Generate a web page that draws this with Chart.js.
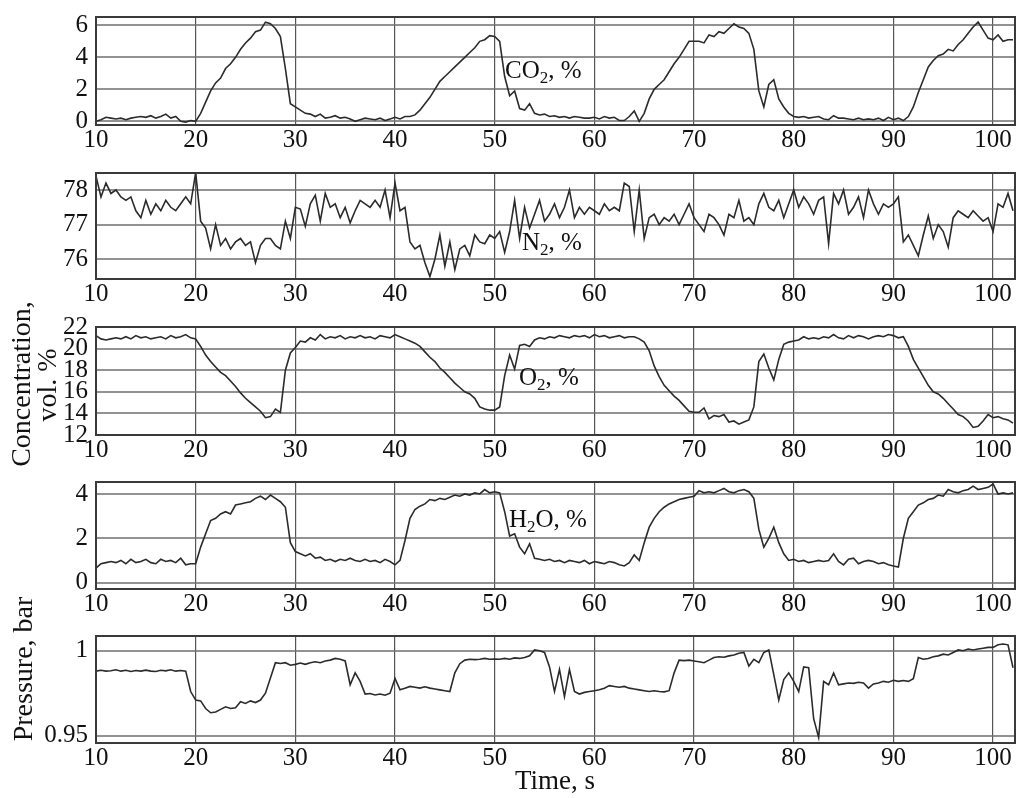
<!DOCTYPE html>
<html><head><meta charset="utf-8">
<script src="https://cdn.jsdelivr.net/npm/chart.js@4.4.1/dist/chart.umd.min.js"></script>
<style>
html,body{margin:0;padding:0;background:#fff;overflow:hidden;}
#wrap{position:relative;width:1017px;height:798px;font-family:"Liberation Serif","Times New Roman",serif;color:#111;}
canvas{position:absolute;left:0;}
.lbl{position:absolute;font-size:25px;line-height:25px;white-space:nowrap;}
.rot{position:absolute;width:220px;font-size:28px;line-height:28px;white-space:nowrap;text-align:center;transform:rotate(-90deg);}
sub{font-size:17px;vertical-align:-5px;line-height:0;}
</style></head>
<body>
<div id="wrap">
  <canvas id="c1"></canvas><canvas id="c2"></canvas><canvas id="c3"></canvas><canvas id="c4"></canvas><canvas id="c5"></canvas>
  <div class="lbl" style="left:505px;top:57px;">CO<sub>2</sub>, %</div>
  <div class="lbl" style="left:522px;top:229px;">N<sub>2</sub>, %</div>
  <div class="lbl" style="left:519px;top:364px;">O<sub>2</sub>, %</div>
  <div class="lbl" style="left:509px;top:506px;">H<sub>2</sub>O, %</div>
  <div class="rot" style="left:-89px;top:370px;">Concentration,</div>
  <div class="rot" style="left:-63px;top:371px;">vol. %</div>
  <div class="rot" style="left:-87px;top:655px;">Pressure, bar</div>
  <div class="lbl" style="left:455px;width:200px;text-align:center;font-size:27px;line-height:27px;top:767px;">Time, s</div>
</div>
<script>
// ---- data ----
const time = [
10,10.5,11,11.5,12,12.5,13,13.5,14,14.5,
15,15.5,16,16.5,17,17.5,18,18.5,19,19.5,
20,20.5,21,21.5,22,22.5,23,23.5,24,24.5,
25,25.5,26,26.5,27,27.5,28,28.5,29,29.5,
30,30.5,31,31.5,32,32.5,33,33.5,34,34.5,
35,35.5,36,36.5,37,37.5,38,38.5,39,39.5,
40,40.5,41,41.5,42,42.5,43,43.5,44,44.5,
45,45.5,46,46.5,47,47.5,48,48.5,49,49.5,
50,50.5,51,51.5,52,52.5,53,53.5,54,54.5,
55,55.5,56,56.5,57,57.5,58,58.5,59,59.5,
60,60.5,61,61.5,62,62.5,63,63.5,64,64.5,
65,65.5,66,66.5,67,67.5,68,68.5,69,69.5,
70,70.5,71,71.5,72,72.5,73,73.5,74,74.5,
75,75.5,76,76.5,77,77.5,78,78.5,79,79.5,
80,80.5,81,81.5,82,82.5,83,83.5,84,84.5,
85,85.5,86,86.5,87,87.5,88,88.5,89,89.5,
90,90.5,91,91.5,92,92.5,93,93.5,94,94.5,
95,95.5,96,96.5,97,97.5,98,98.5,99,99.5,
100,100.5,101,101.5,102];

const co2 = [
0.0,0.1,0.25,0.2,0.15,0.2,0.1,0.2,0.25,0.3,
0.25,0.35,0.2,0.3,0.45,0.2,0.3,0.0,-0.05,0.05,
0.0,0.5,1.2,1.9,2.4,2.7,3.3,3.6,4.0,4.5,
4.9,5.2,5.6,5.7,6.2,6.1,5.8,5.3,3.3,1.1,
0.9,0.7,0.5,0.45,0.3,0.45,0.2,0.25,0.35,0.2,
0.25,0.15,0.0,0.1,0.2,0.15,0.1,0.2,0.05,0.15,
0.25,0.15,0.3,0.3,0.4,0.7,1.1,1.5,2.0,2.5,
2.8,3.1,3.4,3.7,4.0,4.3,4.6,5.0,5.1,5.35,
5.3,5.0,2.8,1.6,1.9,0.8,0.7,1.1,0.5,0.4,
0.45,0.3,0.35,0.25,0.3,0.2,0.3,0.25,0.2,0.2,
0.25,0.15,0.3,0.2,0.25,0.05,0.05,0.3,0.65,0.0,
0.5,1.4,2.0,2.3,2.6,3.1,3.6,4.0,4.5,5.0,
5.0,5.0,4.9,5.4,5.3,5.6,5.5,5.8,6.1,5.9,
5.8,5.5,4.5,1.9,0.9,2.3,2.6,1.4,0.9,0.5,
0.3,0.25,0.3,0.2,0.25,0.3,0.15,0.1,0.35,0.2,
0.2,0.15,0.1,0.2,0.1,0.15,0.1,0.2,0.05,0.25,
0.1,0.2,0.05,0.3,0.9,1.8,2.6,3.4,3.8,4.1,
4.2,4.5,4.4,4.8,5.1,5.5,5.9,6.2,5.7,5.2,
5.1,5.4,5.0,5.1,5.1];

const n2 = [
78.4,77.8,78.2,77.9,78.0,77.8,77.7,77.8,77.4,77.2,
77.7,77.3,77.6,77.4,77.7,77.5,77.4,77.6,77.8,77.6,
78.5,77.1,76.9,76.3,77.0,76.4,76.6,76.3,76.5,76.6,
76.4,76.5,75.9,76.4,76.6,76.6,76.4,76.3,77.1,76.6,
77.5,77.45,76.95,77.6,77.85,77.1,77.9,77.5,77.6,77.2,
77.5,77.05,77.4,77.7,77.6,77.5,77.7,77.5,78.0,77.2,
78.2,77.4,77.5,76.5,76.3,76.4,75.9,75.5,76.0,76.7,
75.8,76.5,75.7,76.3,76.4,76.1,76.7,76.5,76.45,76.7,
76.6,76.8,76.2,76.8,77.7,76.6,77.5,76.9,77.3,77.7,
77.1,77.3,77.6,77.2,77.5,78.0,77.2,77.5,77.3,77.5,
77.4,77.3,77.6,77.4,77.5,77.4,78.2,78.1,76.8,78.0,
76.6,77.2,77.3,77.0,77.2,77.1,77.3,77.0,77.3,77.6,
77.2,77.0,76.8,77.3,77.2,77.0,76.7,77.3,77.2,77.7,
77.1,77.2,77.0,77.6,77.9,77.5,77.4,77.7,77.2,77.6,
78.0,77.5,77.8,77.6,77.3,77.7,77.8,76.45,77.9,77.6,
78.0,77.3,77.5,77.8,77.2,78.0,77.6,77.3,77.6,77.5,
77.6,77.8,76.5,76.7,76.4,76.1,76.7,77.25,76.6,77.0,
76.8,76.35,77.2,77.4,77.3,77.2,77.4,77.25,77.1,77.2,
76.8,77.6,77.5,77.9,77.4];

const o2 = [
21.2,20.9,20.8,20.9,21.0,20.9,21.1,20.9,21.2,21.0,
21.1,20.9,21.0,21.1,20.9,21.2,21.0,21.1,21.3,21.0,
20.9,20.2,19.4,18.8,18.3,17.8,17.5,17.0,16.5,15.9,
15.4,15.0,14.6,14.2,13.6,13.7,14.4,14.1,18.0,19.6,
20.1,20.7,20.6,21.0,20.8,21.3,20.9,21.1,21.0,21.2,
20.9,21.1,21.0,21.2,21.0,21.1,20.9,21.2,21.1,21.0,
21.3,21.1,20.9,20.7,20.5,20.2,19.7,19.2,18.8,18.2,
17.8,17.3,16.8,16.4,16.0,15.8,15.4,14.6,14.4,14.3,
14.3,14.6,17.5,19.4,18.1,20.3,20.4,20.2,20.8,21.0,
20.9,21.1,21.0,21.2,21.1,21.0,21.2,21.1,21.2,21.0,
21.3,21.1,21.2,21.0,21.1,21.2,21.0,21.1,21.1,20.9,
20.6,19.8,18.4,17.4,16.6,16.1,15.6,15.2,14.7,14.2,
14.1,14.1,14.5,13.5,13.8,13.7,13.9,13.2,13.3,13.0,
13.2,13.4,14.6,18.8,19.5,18.2,17.1,19.0,20.4,20.6,
20.7,20.8,21.1,20.9,21.0,20.9,21.1,21.0,21.3,21.0,
20.9,21.2,21.0,21.2,21.1,20.9,21.1,21.2,21.1,21.3,
21.2,21.0,21.1,20.2,19.0,18.2,17.4,16.6,16.0,15.8,
15.4,14.9,14.4,13.9,13.7,13.3,12.7,12.8,13.3,13.9,
13.6,13.7,13.5,13.4,13.1];

const h2o = [
0.65,0.85,0.9,0.95,0.9,1.0,0.85,1.05,0.9,0.95,
1.05,0.9,0.85,1.05,0.95,1.0,0.9,1.1,0.8,0.85,
0.85,1.6,2.2,2.8,2.9,3.1,3.2,3.1,3.5,3.55,
3.6,3.65,3.8,3.9,3.75,3.95,3.8,3.65,3.4,1.8,
1.4,1.3,1.2,1.3,1.1,1.15,1.0,1.05,0.95,1.05,
1.0,1.1,1.0,0.95,1.05,0.95,1.0,0.9,1.05,0.95,
0.8,1.0,1.9,2.9,3.3,3.45,3.55,3.75,3.7,3.8,
3.75,3.85,3.95,3.9,4.0,3.95,4.05,4.0,4.2,4.05,
4.1,4.05,3.2,2.1,2.2,1.6,1.3,1.75,1.1,1.05,
1.0,1.05,0.95,1.0,0.9,1.0,0.95,0.9,1.0,0.85,
0.95,0.9,0.85,0.95,0.9,0.8,0.75,0.9,1.25,1.0,
1.8,2.5,2.9,3.2,3.4,3.55,3.65,3.75,3.8,3.85,
3.9,4.15,4.05,4.1,4.05,4.15,4.25,4.1,4.05,4.15,
4.2,4.1,3.8,2.4,1.6,2.0,2.5,1.8,1.3,1.0,
1.05,0.95,1.0,0.9,0.95,1.0,0.95,1.0,1.3,0.95,
0.8,1.05,1.1,0.85,0.95,1.0,0.95,0.85,0.9,0.8,
0.75,0.7,2.0,2.9,3.2,3.5,3.6,3.75,3.8,3.95,
3.9,4.2,4.1,4.05,4.15,4.2,4.35,4.2,4.25,4.3,
4.45,4.0,4.05,4.0,4.05];

const pressure = [
0.988,0.9885,0.988,0.9882,0.9888,0.988,0.9885,0.9878,0.9884,0.988,
0.9886,0.988,0.9878,0.9885,0.9882,0.9888,0.988,0.9884,0.988,0.976,
0.971,0.9705,0.966,0.9635,0.964,0.9655,0.967,0.966,0.9665,0.970,
0.969,0.9705,0.9695,0.971,0.975,0.984,0.993,0.9925,0.993,0.9915,
0.992,0.9928,0.992,0.993,0.9935,0.993,0.994,0.9945,0.9955,0.995,
0.994,0.980,0.987,0.982,0.9745,0.9748,0.974,0.9745,0.9738,0.975,
0.9837,0.977,0.978,0.979,0.9785,0.978,0.9788,0.978,0.9775,0.977,
0.9765,0.976,0.987,0.9924,0.9945,0.995,0.9948,0.995,0.9955,0.995,
0.9952,0.995,0.9955,0.995,0.9958,0.9955,0.996,0.997,1.0005,1.000,
0.999,0.9905,0.976,0.989,0.973,0.989,0.976,0.9745,0.9755,0.976,
0.9765,0.977,0.978,0.9795,0.979,0.9785,0.979,0.978,0.9775,0.977,
0.9765,0.976,0.9765,0.976,0.9758,0.9765,0.987,0.9945,0.9942,0.9945,
0.994,0.9935,0.993,0.9945,0.996,0.9965,0.9962,0.997,0.9975,0.9985,
0.999,0.991,0.995,0.993,0.999,1.0005,0.986,0.971,0.983,0.987,
0.982,0.976,0.9905,0.990,0.960,0.949,0.982,0.980,0.9869,0.980,
0.9805,0.981,0.9808,0.9815,0.981,0.978,0.9805,0.981,0.982,0.9815,
0.9826,0.982,0.9825,0.982,0.9835,0.996,0.995,0.9955,0.9965,0.997,
0.998,0.9975,0.999,1.0005,1.000,1.001,1.0005,1.001,1.0015,1.002,
1.002,1.0035,1.004,1.0035,0.990];

const xTicks = [10,20,30,40,50,60,70,80,90,100];
const co2Ticks = [0,2,4,6];
const n2Ticks = [76,77,78];
const o2Ticks = [12,14,16,18,20,22];
const h2oTicks = [0,2,4];
const pTicks = [0.95,1];

// ---- layout ----
const PAD_TOP = 14, X_AXIS_H = 32;
const panels = [
  {id:'c1', top:8,   bottom:125, min:-0.23, max:6.52, ticks:co2Ticks, values:co2},
  {id:'c2', top:164, bottom:279, min:75.43, max:78.49, ticks:n2Ticks, values:n2},
  {id:'c3', top:318, bottom:435, min:12, max:22, ticks:o2Ticks, values:o2},
  {id:'c4', top:473, bottom:589, min:-0.29, max:4.54, ticks:h2oTicks, values:h2o},
  {id:'c5', top:627, bottom:743, min:0.9457, max:1.0087, ticks:pTicks, values:pressure}
];

const framePlugin = {
  id:'frame',
  afterDatasetsDraw(chart){
    const {ctx, chartArea:a} = chart;
    ctx.save();
    ctx.strokeStyle = '#3a3a3a';
    ctx.lineWidth = 2;
    ctx.strokeRect(a.left, a.top, a.right - a.left, a.bottom - a.top);
    ctx.restore();
  }
};

const font = {family:'"Liberation Serif","Times New Roman",serif', size:25};

panels.forEach(p => {
  const cv = document.getElementById(p.id);
  const h = PAD_TOP + (p.bottom - p.top) + X_AXIS_H;
  cv.width = 1017; cv.height = h;
  cv.style.top = (p.top - PAD_TOP) + 'px';
  cv.style.width = '1017px'; cv.style.height = h + 'px';
  new Chart(cv, {
    type:'line',
    data:{datasets:[{
      data: time.map((t,i) => ({x:t, y:p.values[i]})),
      borderColor:'#2b2b2b', borderWidth:1.6, pointRadius:0, tension:0, fill:false
    }]},
    options:{
      responsive:false, animation:false, devicePixelRatio:1,
      layout:{padding:{top:PAD_TOP, left:0, right:2, bottom:0}},
      plugins:{legend:{display:false}, tooltip:{enabled:false}},
      scales:{
        x:{type:'linear', min:10, max:102.2,
           afterBuildTicks: s => { s.ticks = xTicks.map(v => ({value:v})); },
           afterFit: s => { s.height = X_AXIS_H; },
           ticks:{font, color:'#111', padding:0, maxRotation:0, autoSkip:false, callback:v => String(v)},
           grid:{color:'#555', lineWidth:1.2, drawTicks:false},
           border:{display:false}},
        y:{type:'linear', min:p.min, max:p.max,
           afterBuildTicks: s => { s.ticks = p.ticks.map(v => ({value:v})); },
           afterFit: s => { s.width = 96; },
           ticks:{font, color:'#111', padding:8, autoSkip:false, callback:v => String(v)},
           grid:{color:'rgba(110,110,110,0.75)', lineWidth:2, drawTicks:false},
           border:{display:false}}
      }
    },
    plugins:[framePlugin]
  });
});
</script>
</body></html>
